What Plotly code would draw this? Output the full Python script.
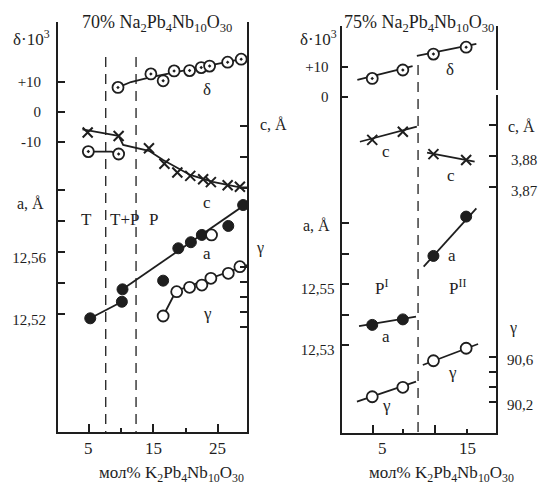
import plotly.graph_objects as go

W, H = 542, 485
INK = '#1e1e1e'
FONT = 'Liberation Serif, Times New Roman, serif'

# ---------------- data: 70% Na2Pb4Nb10O30 ----------------
delta70_x = [9.5, 14.6, 16.5, 18.2, 20.6, 22.4, 23.7, 26.5, 28.6]
delta70 = [8.1, 12.6, 10.3, 13.6, 13.7, 14.7, 15.2, 16.5, 17.5]
delta70_fit_x = [9.5, 11.5, 14.6, 28.6]
delta70_fit = [8.1, 9.9, 11.5, 17.5]
delta70T_x = [4.9, 9.6]
delta70T = [-13.3, -14.1]
delta70T_fit_x = [4.9, 8.5, 9.6]
delta70T_fit = [-13.3, -13.3, -14.1]

c70_x = [4.8, 9.6, 14.3, 16.7, 18.7, 20.7, 22.7, 23.9, 26.5, 28.4]
c70 = [3.8879, 3.8868, 3.8828, 3.8778, 3.8750, 3.8739, 3.8728, 3.8719, 3.8709, 3.8704]
c70_fitA_x = [4.0, 9.6]
c70_fitA = [3.8889, 3.8868]
c70_fitB_x = [9.6, 10.3, 14.3, 16.5, 20.7, 24.2, 28.4, 29.5]
c70_fitB = [3.8868, 3.8839, 3.8820, 3.8790, 3.8742, 3.8720, 3.8702, 3.8702]

a70_x = [5.2, 10.1, 10.2, 16.5, 18.85, 20.8, 22.5, 26.6, 28.9]
a70 = [12.5174, 12.5281, 12.5361, 12.5417, 12.5626, 12.5665, 12.5712, 12.5770, 12.5905]
a70_open_x = [24.0]
a70_open = [12.5712]
a70_fitT_x = [5.2, 10.1]
a70_fitT = [12.5174, 12.5281]
a70_fitP_x = [10.2, 29.5]
a70_fitP = [12.5361, 12.5916]

g70_x = [16.5, 18.6, 20.6, 22.5, 23.9, 26.6, 28.4]
g70 = [90.298, 90.514, 90.553, 90.573, 90.633, 90.677, 90.736]
g70_fit_x = [16.5, 18.5, 29.5]
g70_fit = [90.298, 90.52, 90.751]

bounds70 = [7.6, 12.3]
xticks70 = [5, 15, 25]
xminor70 = [10, 20]

# ---------------- data: 75% Na2Pb4Nb10O30 ----------------
x75 = [3.85, 7.45, 11.05, 14.9]
delta75 = [6.2, 9.0, 14.3, 16.6]
c75 = [3.8852, 3.8878, 3.8806, 3.8787]
a75 = [12.5366, 12.5384, 12.5592, 12.5721]
g75 = [90.244, 90.328, 90.564, 90.675]

delta75_fit1_x = [2.1, 8.6]
delta75_fit1 = [5.7, 10.3]
delta75_fit2_x = [9.1, 16.1]
delta75_fit2 = [13.7, 17.7]
c75_fit1_x = [2.4, 9.1]
c75_fit1 = [3.8846, 3.8895]
c75_fit2_x = [10.3, 15.9]
c75_fit2 = [3.8811, 3.8782]
a75_fit1_x = [2.3, 9.0]
a75_fit1 = [12.5362, 12.5393]
a75_fit2_x = [9.9, 16.1]
a75_fit2 = [12.5557, 12.5748]
g75_fit1_x = [2.05, 9.0]
g75_fit1 = [90.2, 90.378]
g75_fit2_x = [9.8, 16.3]
g75_fit2 = [90.526, 90.713]

bounds75 = [9.24]
xlabels75 = [5, 15]
xmajor75 = [3.9, 11.2]
xminor75 = [7.5, 15]

# ---------------- axis ranges (from picture scale) ----------------
rng = dict(
    x70=[0.2, 29.5], d70=[-106.77, 29.9], a70=[12.44406, 12.70858],
    c70=[3.79129, 3.92355], g70=[89.2667, 92.9111],
    x75=[0.235, 18.41], d75=[-112.0, 23.667], a75=[12.50115, 12.63459],
    c75=[3.79065, 3.92194], g75=[89.9218, 93.5396],
)

fig = go.Figure()

def line(x, y, xa, ya, dash=None, w=1.8):
    fig.add_trace(go.Scatter(x=x, y=y, xaxis=xa, yaxis=ya, mode='lines',
                             line=dict(color=INK, width=w, dash=dash),
                             showlegend=False, hoverinfo='skip'))

def pts(x, y, xa, ya, kind):
    if kind == 'delta':
        m = dict(symbol='circle-dot', size=11, color='white',
                 line=dict(color=INK, width=1.8))
    elif kind == 'a':
        m = dict(symbol='circle', size=11, color=INK, line=dict(color=INK, width=1))
    elif kind == 'open':
        m = dict(symbol='circle', size=11, color='white', line=dict(color=INK, width=1.8))
    else:
        m = dict(symbol='x-thin-open', size=10, color=INK, line=dict(color=INK, width=2))
    fig.add_trace(go.Scatter(x=x, y=y, xaxis=xa, yaxis=ya, mode='markers',
                             marker=m, showlegend=False, hoverinfo='skip'))

# left panel
dx, dy = [], []
for b in bounds70:
    dx += [b, b, None]
    dy += [18.2, rng['d70'][0], None]
line(dx, dy, 'x', 'y', dash='10px,7px', w=1.3)

line(delta70_fit_x, delta70_fit, 'x', 'y')
line(delta70T_fit_x, delta70T_fit, 'x', 'y')
line(c70_fitA_x, c70_fitA, 'x', 'y3')
line(c70_fitB_x, c70_fitB, 'x', 'y3')
line(a70_fitT_x, a70_fitT, 'x', 'y2')
line(a70_fitP_x, a70_fitP, 'x', 'y2')
line(g70_fit_x, g70_fit, 'x', 'y4')
pts(delta70_x, delta70, 'x', 'y', 'delta')
pts(delta70T_x, delta70T, 'x', 'y', 'delta')
pts(c70_x, c70, 'x', 'y3', 'c')
pts(a70_x, a70, 'x', 'y2', 'a')
pts(a70_open_x, a70_open, 'x', 'y2', 'open')
pts(g70_x, g70, 'x', 'y4', 'open')

# right panel
dx, dy = [], []
for b in bounds75:
    dx += [b, b, None]
    dy += [10.7, rng['d75'][0], None]
line(dx, dy, 'x2', 'y5', dash='10px,7px', w=1.3)

line(delta75_fit1_x, delta75_fit1, 'x2', 'y5')
line(delta75_fit2_x, delta75_fit2, 'x2', 'y5')
line(c75_fit1_x, c75_fit1, 'x2', 'y7')
line(c75_fit2_x, c75_fit2, 'x2', 'y7')
line(a75_fit1_x, a75_fit1, 'x2', 'y6')
line(a75_fit2_x, a75_fit2, 'x2', 'y6')
line(g75_fit1_x, g75_fit1, 'x2', 'y8')
line(g75_fit2_x, g75_fit2, 'x2', 'y8')
pts(x75, delta75, 'x2', 'y5', 'delta')
pts(x75, c75, 'x2', 'y7', 'c')
pts(x75, a75, 'x2', 'y6', 'a')
pts(x75, g75, 'x2', 'y8', 'open')

# ---------------- axes ----------------
def px_x(a, b):
    return [a / W, b / W]

def px_y(top, bot):
    return [1 - bot / H, 1 - top / H]

tickfont = dict(family=FONT, size=15, color=INK)
base = dict(showgrid=False, zeroline=False, ticks='inside', tickcolor=INK,
            tickwidth=1.6, linecolor=INK, linewidth=1.8, tickfont=tickfont)
minor_base = dict(ticklen=4, ticks='inside', tickcolor=INK, tickwidth=1.6)

dom70y = px_y(22, 432)
dom75y = px_y(26, 433)

fig.update_layout(
    xaxis=dict(base, domain=px_x(58, 247), range=rng['x70'], anchor='y',
               showline=True, tickvals=xticks70, ticklen=8, showticklabels=False,
               minor=dict(minor_base, tickvals=xminor70)),
    yaxis=dict(base, domain=dom70y, range=rng['d70'], anchor='x', side='left',
               showline=True, tickvals=[10, 0, -10], ticktext=['+10', '0', '-10'],
               ticklen=7, ticklabelstandoff=12),
    yaxis2=dict(base, domain=dom70y, range=rng['a70'], anchor='x', overlaying='y',
                side='left', showline=False,
                tickvals=[12.52, 12.54, 12.56, 12.58, 12.60],
                ticktext=['12,52', '', '12,56', '', ''], ticklen=7,
                ticklabelstandoff=11, ticklabelshift=5),
    yaxis3=dict(base, domain=dom70y, range=rng['c70'], anchor='x', overlaying='y',
                side='right', showline=True, tickvals=[3.89, 3.88, 3.87],
                showticklabels=False, ticklen=7),
    yaxis4=dict(base, domain=dom70y, range=rng['g70'], anchor='x', overlaying='y',
                side='right', showline=False,
                tickvals=[90.733, 90.6, 90.467, 90.333, 90.2],
                showticklabels=False, ticklen=7),

    xaxis2=dict(base, domain=px_x(341.5, 496), range=rng['x75'], anchor='y5',
                showline=True, tickvals=xmajor75, ticklen=8,
                showticklabels=False,
                minor=dict(minor_base, tickvals=xminor75)),
    yaxis5=dict(base, domain=dom75y, range=rng['d75'], anchor='x2', side='left',
                showline=True, tickvals=[10, 0], ticktext=['+10', '0'],
                ticklen=7, ticklabelstandoff=8),
    yaxis6=dict(base, domain=dom75y, range=rng['a75'], anchor='x2', overlaying='y5',
                side='left', showline=False,
                tickvals=[12.53, 12.54, 12.55, 12.56, 12.57],
                ticktext=['12,53', '', '12,55', '', ''], ticklen=7,
                ticklabelstandoff=6, ticklabelshift=5),
    yaxis7=dict(base, domain=dom75y, range=rng['c75'], anchor='x2', overlaying='y5',
                side='right', showline=True, tickvals=[3.89, 3.88, 3.87],
                ticktext=['', '3,88', '3,87'], ticklen=7,
                ticklabelstandoff=10, ticklabelshift=4),
    yaxis8=dict(base, domain=dom75y, range=rng['g75'], anchor='x2', overlaying='y5',
                side='right', showline=False,
                tickvals=[90.6, 90.4667, 90.3333, 90.2],
                ticktext=['90,6', '', '', '90,2'], ticklen=7,
                ticklabelstandoff=10, ticklabelshift=3),
)

# small gap in the right frame line of the 75% panel (as in the original)
fig.add_shape(type='rect', xref='paper', yref='paper',
              x0=493 / W, x1=499 / W, y0=1 - 95 / H, y1=1 - 90 / H,
              fillcolor='white', line=dict(width=0), layer='above')

# ---------------- text ----------------
def txt(s, x, y, size=17):
    fig.add_annotation(text=s, x=x / W, y=1 - y / H, xref='paper', yref='paper',
                       showarrow=False, xanchor='center', yanchor='middle',
                       font=dict(family=FONT, size=size, color=INK))

# x tick labels, placed on the data axes
for v in xticks70:
    fig.add_annotation(text=str(v), x=v, xref='x', y=1 - 448 / H, yref='paper',
                       showarrow=False, xanchor='center', yanchor='middle',
                       font=dict(family=FONT, size=17, color=INK))
for v in xlabels75:
    fig.add_annotation(text=str(v), x=v, xref='x2', y=1 - 448 / H, yref='paper',
                       showarrow=False, xanchor='center', yanchor='middle',
                       font=dict(family=FONT, size=17, color=INK))

chem = 'Na<sub>2</sub>Pb<sub>4</sub>Nb<sub>10</sub>O<sub>30</sub>'
xlab = 'мол% K<sub>2</sub>Pb<sub>4</sub>Nb<sub>10</sub>O<sub>30</sub>'

txt('70% ' + chem, 157, 23, 18)
txt('75% ' + chem, 419, 23, 18)
txt(xlab, 171, 474, 17)
txt(xlab, 442, 474, 17)

txt('δ·10<sup>3</sup>', 31, 38, 17)
txt('a, Å', 30, 203, 16)
txt('c, Å', 273, 125, 16)
txt('γ', 260, 248, 16)
txt('δ', 207, 89)
txt('c', 207, 202)
txt('a', 207, 253)
txt('γ', 207, 313)
txt('T', 86, 220)
txt('T+P', 124, 220)
txt('P', 153, 220)

txt('δ·10<sup>3</sup>', 318, 38, 17)
txt('a, Å', 316, 225, 16)
txt('c, Å', 521, 127, 16)
txt('γ', 513, 328, 16)
txt('δ', 450, 70)
txt('c', 386, 151)
txt('c', 451, 175)
txt('a', 386, 336)
txt('a', 452, 255)
txt('γ', 386, 405)
txt('γ', 452, 372)
txt('P<sup>I</sup>', 381, 287)
txt('P<sup>II</sup>', 457, 287)

fig.update_layout(width=W, height=H, margin=dict(l=0, r=0, t=0, b=0),
                  paper_bgcolor='white', plot_bgcolor='rgba(0,0,0,0)',
                  showlegend=False)

fig.write_html('out.html')
